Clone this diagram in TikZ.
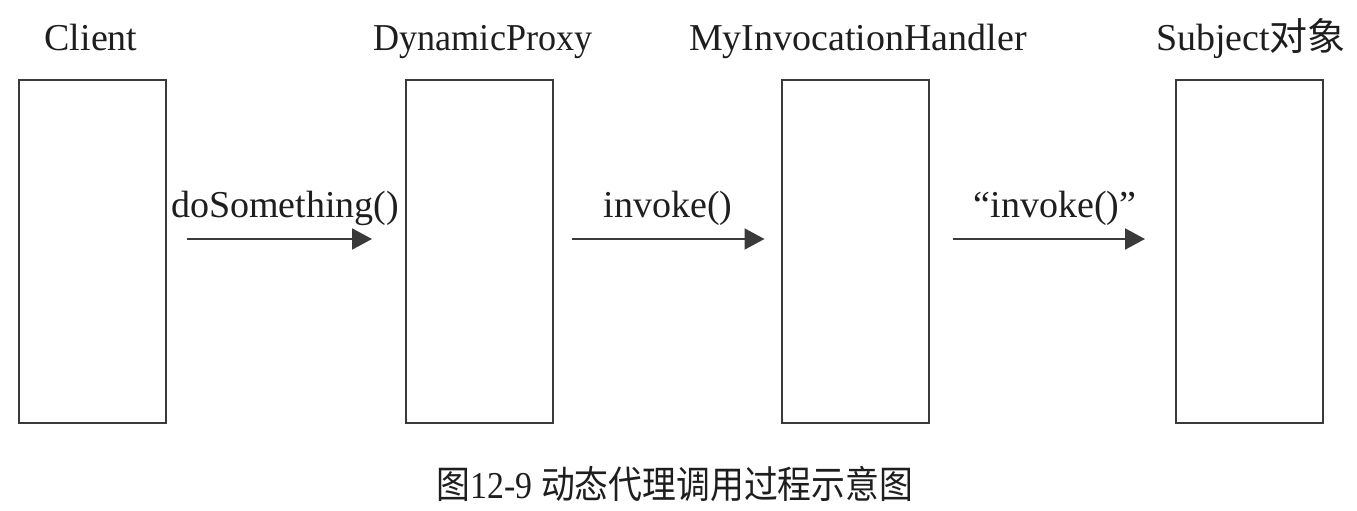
\documentclass[tikz,border=0pt]{standalone}
\usepackage{fontspec}
\setmainfont{Liberation Serif}
\newfontfamily\cjk{Noto Sans CJK SC}
\usetikzlibrary{arrows.meta}
\definecolor{linec}{HTML}{3A3A3A}
\definecolor{textc}{HTML}{1E1E1E}
\tikzset{
  box/.style={draw=linec, line width=1pt, minimum width=73.5pt, minimum height=171.5pt, inner sep=0pt},
  lbl/.style={font=\fontsize{19}{22}\selectfont, text=textc, anchor=base, inner sep=0pt},
  arr/.style={draw=linec, line width=1pt, -{Triangle[length=10pt,width=10.5pt]}},
}
\begin{document}
\begin{tikzpicture}[x=0.5pt,y=-0.5pt]
\useasboundingbox (0,0) rectangle (1357,510);
\node[box] (c) at (92.5,251.5) {};
\node[box] (dp) at (479.5,251.5) {};
\node[box] (mih) at (855,251.5) {};
\node[box] (subj) at (1249.5,251.5) {};
\node[lbl] (tc) at (91,50) {Client};
\node[lbl, xscale=0.95] (tdp) at (483,50) {DynamicProxy};
\node[lbl] (tmih) at (858,50) {MyInvocationHandler};
\node[lbl] (tsubj) at (1251,50) {Subject{\cjk 对象}};
\draw[arr] ([xshift=10pt,yshift=6.25pt]c.east) -- ([xshift=-16.5pt,yshift=6.25pt]dp.west);
\draw[arr] ([xshift=9pt,yshift=6.25pt]dp.east) -- ([xshift=-8pt,yshift=6.25pt]mih.west);
\draw[arr] ([xshift=11.5pt,yshift=6.25pt]mih.east) -- ([xshift=-15pt,yshift=6.25pt]subj.west);
\node[lbl] (l1) at (285,217) {doSomething()};
\node[lbl] (l2) at (668,217) {invoke()};
\node[lbl] (l3) at (1055,217) {“invoke()”};
\node[lbl, xscale=0.89] (cap) at (675,498) {{\cjk 图}12-9 {\cjk 动态代理调用过程示意图}};
\end{tikzpicture}
\end{document}
